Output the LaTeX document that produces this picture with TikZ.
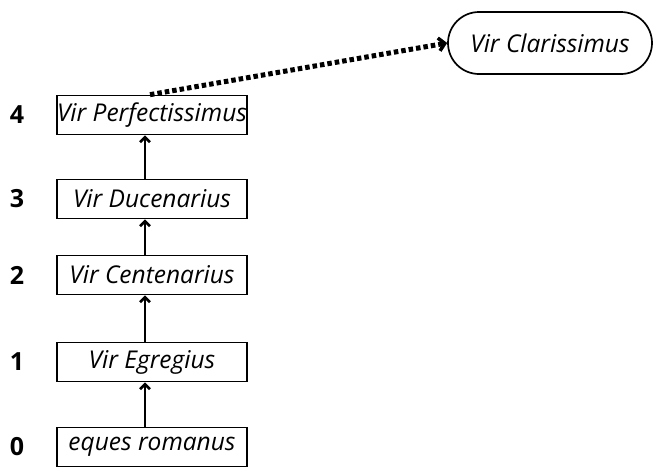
\documentclass[tikz,border=0pt]{standalone}
\usepackage{fontspec}
\setmainfont{Open Sans}
\usetikzlibrary{arrows.meta,shapes.misc}
\begin{document}
\begin{tikzpicture}[x=1pt,y=-1pt,
  rank/.style={draw,line width=1.7pt,minimum width=190pt,minimum height=39pt,inner sep=0pt,font=\fontsize{24.5}{28}\selectfont\itshape},
  lvl/.style={font=\fontsize{25}{28}\selectfont\bfseries},
  up/.style={line width=2.6pt,-{Straight Barb[length=5pt,width=10pt,line width=2.6pt]}},
  goal/.style={draw,line width=1.7pt,rounded rectangle,minimum width=204pt,minimum height=62pt,inner sep=0pt,font=\fontsize{24.5}{28}\selectfont\itshape},
  dotarrow/.style={line width=5pt,dash pattern=on 4.5pt off 3pt,-{Straight Barb[length=6pt,width=13pt,line width=3.5pt]}}]
\useasboundingbox (0,0) rectangle (653,466);
\node[rank] (perf) at (152,115) {Vir Perfectissimus};
\node[rank] (duc) at (152,199) {Vir Ducenarius};
\node[rank] (cent) at (152,275) {Vir Centenarius};
\node[rank] (egr) at (152,362) {Vir Egregius};
\node[rank] (eq) at (152,447) {eques romanus};
\node[goal] (clar) at (550,43) {Vir Clarissimus};
\node[lvl] (l4) at (17,115) {4};
\node[lvl] (l3) at (17,199) {3};
\node[lvl] (l2) at (17,275) {2};
\node[lvl] (l1) at (17,362) {1};
\node[lvl] (l0) at (17,447) {0};
\draw[up] ([xshift=-7pt]eq.north) -- ([xshift=-7pt]egr.south);
\draw[up] ([xshift=-7pt]egr.north) -- ([xshift=-7pt]cent.south);
\draw[up] ([xshift=-7pt]cent.north) -- ([xshift=-7pt]duc.south);
\draw[up] ([xshift=-7pt]duc.north) -- ([xshift=-7pt]perf.south);
\draw[dotarrow] ([xshift=-2pt]perf.north) -- (clar.west);
\end{tikzpicture}
\end{document}
